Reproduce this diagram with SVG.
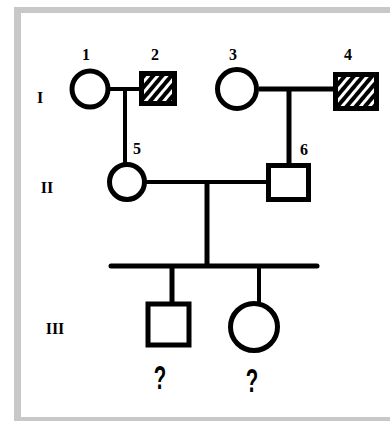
<svg xmlns="http://www.w3.org/2000/svg" width="390" height="421" viewBox="0 0 390 421">
<defs>
<pattern id="hatch" width="7" height="7" patternUnits="userSpaceOnUse" patternTransform="rotate(40)">
<rect width="7" height="7" fill="#000"/>
<rect x="0" y="0" width="3" height="7" fill="#fff"/>
</pattern>
</defs>
<style>
.frame{fill:#c8c8c8}
.ln{stroke:#000;fill:none}
.f{fill:#fff;stroke:#000;stroke-width:5}
.a{fill:url(#hatch);stroke:#000;stroke-width:5}
.num{font-family:"Liberation Serif",serif;font-weight:bold;font-size:16px;fill:#000;text-anchor:middle}
.gen{font-family:"Liberation Serif",serif;font-weight:bold;font-size:16px;fill:#000;text-anchor:middle}
.q{font-family:"Liberation Sans",sans-serif;font-weight:bold;font-size:34px;fill:#000;text-anchor:middle}
</style>
<rect width="390" height="421" fill="#fff"/>
<g id="frame">
<rect class="frame" x="14" y="7" width="376" height="6"/>
<rect class="frame" x="14" y="7" width="7" height="414"/>
<rect class="frame" x="14" y="417" width="376" height="4"/>
</g>
<g id="generations">
<text class="gen" x="40" y="103">I</text>
<text class="gen" x="47" y="193">II</text>
<text class="gen" x="55" y="334">III</text>
</g>
<g id="connectors">
<line class="ln" x1="108" y1="89" x2="141" y2="89" stroke-width="4"/>
<line class="ln" x1="125" y1="89" x2="125" y2="164" stroke-width="4"/>
<line class="ln" x1="259" y1="89" x2="335" y2="89" stroke-width="5"/>
<line class="ln" x1="289" y1="89" x2="289" y2="165" stroke-width="5"/>
<line class="ln" x1="145" y1="182" x2="268" y2="182" stroke-width="4"/>
<line class="ln" x1="207" y1="182" x2="207" y2="266" stroke-width="5"/>
<line class="ln" x1="111" y1="266" x2="317" y2="266" stroke-width="5" stroke-linecap="round"/>
<line class="ln" x1="172" y1="266" x2="172" y2="304" stroke-width="5"/>
<line class="ln" x1="259" y1="266" x2="259" y2="303" stroke-width="4"/>
</g>
<g id="n1">
<circle class="f" cx="90" cy="89" r="18"/>
<text class="num" x="86" y="60">1</text>
</g>
<g id="n2">
<rect class="a" x="141.5" y="73.5" width="33" height="30"/>
<text class="num" x="155" y="60">2</text>
</g>
<g id="n3">
<circle class="f" cx="237" cy="89" r="19.5" stroke-width="6"/>
<text class="num" x="233" y="60">3</text>
</g>
<g id="n4">
<rect class="a" x="335.5" y="74.5" width="41" height="34"/>
<text class="num" x="348" y="60">4</text>
</g>
<g id="n5">
<circle class="f" cx="127" cy="182" r="17.5"/>
<text class="num" x="137" y="154">5</text>
</g>
<g id="n6">
<rect class="f" x="268.5" y="165.5" width="40" height="34"/>
<text class="num" x="304" y="155">6</text>
</g>
<g id="n7">
<rect class="f" x="148" y="304" width="41" height="41" stroke-width="6"/>
<text class="q" transform="translate(160 389) scale(0.6 1)" x="0" y="0">?</text>
</g>
<g id="n8">
<circle class="f" cx="254" cy="327" r="23.5"/>
<text class="q" transform="translate(252 392) scale(0.6 1)" x="0" y="0">?</text>
</g>
</svg>
